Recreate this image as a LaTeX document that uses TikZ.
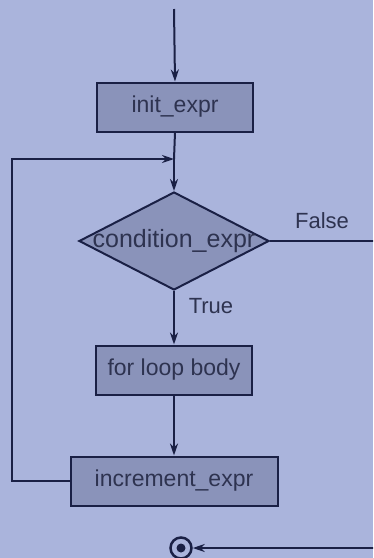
\documentclass[tikz,border=0pt]{standalone}
\usepackage{fontspec}
\setmainfont{Liberation Sans}
\usetikzlibrary{arrows.meta,shapes.geometric}
\definecolor{paper}{HTML}{AAB4DC}
\definecolor{boxfill}{HTML}{8A93BA}
\definecolor{ink}{HTML}{1A2045}
\definecolor{txt}{HTML}{2E3350}
\begin{document}
\begin{tikzpicture}[x=1pt,y=-1pt,
  flow/.style={draw=ink, line width=2pt},
  arr/.style={flow, -{Stealth[length=12pt,width=8pt]}},
  stepbox/.style={draw=ink, line width=2pt, fill=boxfill, minimum height=49pt,
    inner sep=0pt, text=txt, font=\fontsize{23}{27}\selectfont},
  decision/.style={diamond, draw=ink, line width=2pt, fill=boxfill,
    minimum width=190pt, minimum height=98pt, inner sep=0pt},
  lbl/.style={text=txt, font=\fontsize{22}{26}\selectfont, inner sep=0pt}]
  % canvas
  \fill[paper] (0,0) rectangle (373,558);
  \useasboundingbox (0,0) rectangle (373,558);
  \clip (0,0) rectangle (373,558);

  % nodes
  \coordinate (start) at (174,9);
  \node[stepbox, minimum width=156pt] (init) at (175,107) {init\_expr};
  \coordinate (join) at (174,159);
  \node[decision] (cond) at (174,241) {};
  \node[lbl, font=\fontsize{25}{29}\selectfont] (condtext) at (cond) {condition\_expr};
  \node[stepbox, minimum width=156pt] (body) at (174,370) {for loop body};
  \node[stepbox, minimum width=207pt] (incr) at (174,481) {increment\_expr};
  \node[circle, draw=ink, line width=2.5pt, minimum size=21pt, inner sep=0pt] (end) at (181,548) {};
  \fill[ink] (end.center) circle (4.5pt);
  \coordinate (rightturn) at (385,241);

  % labels
  \node[lbl] (falselbl) at (322,221) {False};
  \node[lbl] (truelbl) at (211,306) {True};

  % connectors
  \draw[arr] (start) -- (init.north);
  \draw[flow] (init.south) -- (join);
  \draw[arr] (join) -- (cond.north);
  \draw[arr] (cond.south) -- (body.north);
  \draw[arr] (body.south) -- (incr.north);
  \draw[arr] (incr.west) -- (12,481) -- (12,159) -- (join);
  \draw[arr] (cond.east) -- (rightturn) |- (end.east);
\end{tikzpicture}
\end{document}
